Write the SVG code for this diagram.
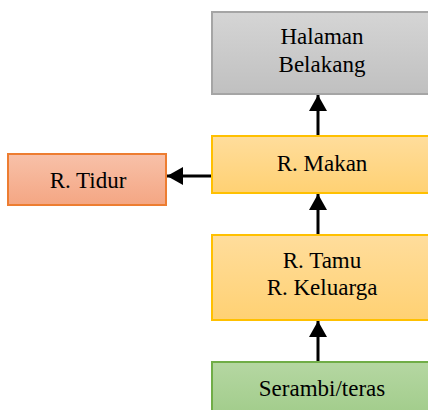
<svg xmlns="http://www.w3.org/2000/svg" width="428" height="410" viewBox="0 0 428 410">
<defs>
<linearGradient id="gGray" x1="0" y1="0" x2="0" y2="1"><stop offset="0" stop-color="#d5d5d5"/><stop offset="1" stop-color="#c0c0c0"/></linearGradient>
<linearGradient id="gGold" x1="0" y1="0" x2="0" y2="1"><stop offset="0" stop-color="#ffdd9c"/><stop offset="1" stop-color="#ffd173"/></linearGradient>
<linearGradient id="gGreen" x1="0" y1="0" x2="0" y2="1"><stop offset="0" stop-color="#b5d7a2"/><stop offset="1" stop-color="#9fcb88"/></linearGradient>
<linearGradient id="gOrange" x1="0" y1="0" x2="0" y2="1"><stop offset="0" stop-color="#f8c1a9"/><stop offset="1" stop-color="#f4a683"/></linearGradient>
<marker id="arr" markerUnits="userSpaceOnUse" markerWidth="18" markerHeight="18" refX="16" refY="9" orient="auto"><path d="M0,0 L16,9 L0,18 Z" fill="#000"/></marker>
</defs>
<style>
text{font-family:"Liberation Serif","Times New Roman",serif;font-size:23px;fill:#000;text-anchor:middle}
.conn{stroke:#000;stroke-width:3;fill:none}
</style>
<g id="halaman">
<rect x="212" y="12" width="222" height="82" fill="url(#gGray)" stroke="#a5a5a5" stroke-width="2"/>
<text x="322" y="44">Halaman</text>
<text x="322" y="72">Belakang</text>
</g>
<g id="makan">
<rect x="212" y="136" width="222" height="57" fill="url(#gGold)" stroke="#ffc000" stroke-width="2"/>
<text x="322" y="171">R. Makan</text>
</g>
<g id="tidur">
<rect x="8" y="154" width="158" height="51" fill="url(#gOrange)" stroke="#ed7d31" stroke-width="2"/>
<text x="88" y="188">R. Tidur</text>
</g>
<g id="tamu">
<rect x="212" y="235" width="222" height="85" fill="url(#gGold)" stroke="#ffc000" stroke-width="2"/>
<text x="322" y="268">R. Tamu</text>
<text x="322" y="295">R. Keluarga</text>
</g>
<g id="serambi">
<rect x="212" y="362" width="222" height="60" fill="url(#gGreen)" stroke="#70ad47" stroke-width="2"/>
<text x="322" y="396">Serambi/teras</text>
</g>
<g id="connectors">
<line class="conn" x1="318" y1="135" x2="318" y2="95" marker-end="url(#arr)"/>
<line class="conn" x1="318" y1="234" x2="318" y2="194" marker-end="url(#arr)"/>
<line class="conn" x1="318" y1="361" x2="318" y2="321" marker-end="url(#arr)"/>
<line class="conn" x1="211" y1="176" x2="167" y2="176" marker-end="url(#arr)"/>
</g>
</svg>
